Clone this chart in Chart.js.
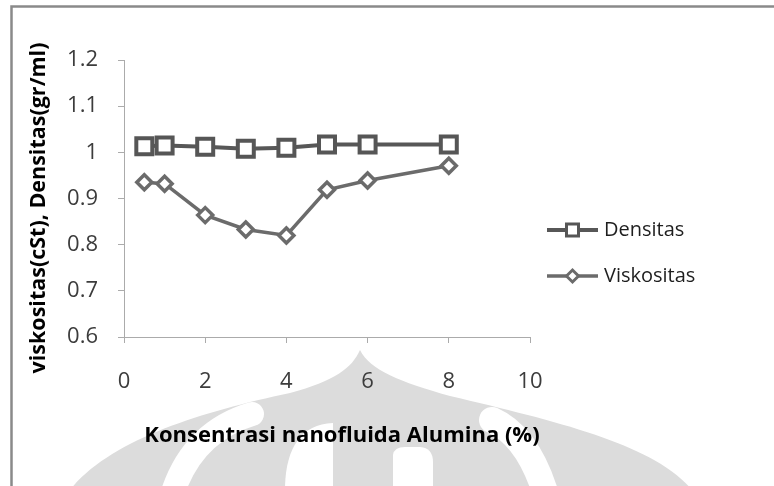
<!DOCTYPE html>
<html>
<head>
<meta charset="utf-8">
<script src="https://cdn.jsdelivr.net/npm/chart.js@4.4.0/dist/chart.umd.min.js"></script>
<style>
  html, body { margin: 0; padding: 0; background: #fff; }
  canvas { display: block; }
</style>
</head>
<body>
<canvas id="chart" width="774" height="486"></canvas>
<script>
// Alumina nanofluid concentration (%) and measured properties
const concentrations = [0.5, 1, 2, 3, 4, 5, 6, 8];
const densitas = [1.013, 1.015, 1.012, 1.008, 1.010, 1.017, 1.017, 1.017];
const viskositas = [0.935, 0.932, 0.864, 0.833, 0.820, 0.919, 0.939, 0.971];
const seriesNames = ['Densitas', 'Viskositas'];
const xTickLabels = ['0', '2', '4', '6', '8', '10'];
const yTickLabels = ['0.6', '0.7', '0.8', '0.9', '1', '1.1', '1.2'];
const xTitle = 'Konsentrasi nanofluida Alumina (%)';
const yTitle = 'viskositas(cSt), Densitas(gr/ml)';

const TICK_FONT = { family: "'Open Sans', sans-serif", size: 22 };
const AXIS_COLOR = '#ababab';

// Page frame and the faint dome emblem behind the plot
const backdrop = {
  id: 'backdrop',
  beforeDraw(chart) {
    const ctx = chart.ctx;
    ctx.save();
    ctx.fillStyle = '#fff';
    ctx.fillRect(0, 0, chart.width, chart.height);

    ctx.fillStyle = '#dcdcdc';
    ctx.beginPath();
    ctx.moveTo(70, 490);
    ctx.bezierCurveTo(110, 440, 200, 412, 290, 393);
    ctx.bezierCurveTo(335, 381, 352, 368, 360, 350);
    ctx.bezierCurveTo(370, 370, 400, 382, 450, 396);
    ctx.bezierCurveTo(560, 422, 655, 445, 692, 490);
    ctx.closePath();
    ctx.fill();

    ctx.strokeStyle = '#fff';
    ctx.lineCap = 'round';
    ctx.lineWidth = 24;
    ctx.beginPath();
    ctx.moveTo(172, 495);
    ctx.quadraticCurveTo(192, 432, 252, 414);
    ctx.stroke();
    ctx.lineWidth = 26;
    ctx.beginPath();
    ctx.moveTo(546, 495);
    ctx.quadraticCurveTo(528, 436, 492, 420);
    ctx.stroke();

    ctx.fillStyle = '#fff';
    ctx.beginPath();
    ctx.moveTo(285, 490);
    ctx.bezierCurveTo(285, 450, 300, 424, 333, 423);
    ctx.lineTo(333, 490);
    ctx.closePath();
    ctx.fill();
    ctx.beginPath();
    ctx.moveTo(393, 490);
    ctx.lineTo(393, 455);
    ctx.quadraticCurveTo(394, 447, 405, 447);
    ctx.lineTo(420, 447);
    ctx.quadraticCurveTo(433, 448, 433, 462);
    ctx.lineTo(433, 490);
    ctx.closePath();
    ctx.fill();

    ctx.strokeStyle = '#8a8a8a';
    ctx.lineWidth = 2.5;
    ctx.lineCap = 'butt';
    ctx.beginPath();
    ctx.moveTo(11.5, 490);
    ctx.lineTo(11.5, 6.5);
    ctx.lineTo(780, 6.5);
    ctx.stroke();
    ctx.restore();
  }
};

function drawMarker(ctx, ds, x, y, radius, borderWidth) {
  ctx.save();
  ctx.fillStyle = ds.pointBackgroundColor;
  ctx.strokeStyle = ds.pointBorderColor;
  ctx.lineWidth = borderWidth;
  ctx.beginPath();
  if (ds.pointStyle === 'rect') {
    const h = radius * Math.SQRT1_2;
    ctx.rect(x - h, y - h, 2 * h, 2 * h);
  } else {
    ctx.moveTo(x - radius, y);
    ctx.lineTo(x, y - radius);
    ctx.lineTo(x + radius, y);
    ctx.lineTo(x, y + radius);
    ctx.closePath();
  }
  ctx.fill();
  ctx.stroke();
  ctx.restore();
}

// Axis titles and the line-and-marker legend
const annotations = {
  id: 'annotations',
  afterDraw(chart) {
    const ctx = chart.ctx;
    ctx.save();
    ctx.fillStyle = '#000';
    ctx.font = "bold 22px 'Open Sans', sans-serif";
    ctx.textAlign = 'center';
    ctx.textBaseline = 'middle';
    ctx.fillText(xTitle, 342, 436);

    ctx.save();
    ctx.translate(39, 208);
    ctx.rotate(-Math.PI / 2);
    ctx.font = "bold 21.5px 'Open Sans', sans-serif";
    ctx.fillText(yTitle, 0, 0);
    ctx.restore();

    const legend = [
      { y: 230, radius: 8.5, border: 3, lineWidth: 4 },
      { y: 276, radius: 6, border: 3, lineWidth: 3.5 }
    ];
    chart.data.datasets.forEach((ds, i) => {
      const row = legend[i];
      ctx.strokeStyle = ds.borderColor;
      ctx.lineWidth = row.lineWidth;
      ctx.beginPath();
      ctx.moveTo(547, row.y);
      ctx.lineTo(598, row.y);
      ctx.stroke();
      drawMarker(ctx, ds, 572.5, row.y, row.radius, row.border);
      ctx.fillStyle = '#1e1e1e';
      ctx.font = "20px 'Open Sans', sans-serif";
      ctx.textAlign = 'left';
      ctx.fillText(ds.label, 604, row.y);
    });
    ctx.restore();
  }
};

new Chart(document.getElementById('chart'), {
  type: 'line',
  data: {
    datasets: [
      {
        label: seriesNames[0],
        data: concentrations.map((c, i) => ({ x: c, y: densitas[i] })),
        borderColor: '#575757',
        borderWidth: 4,
        pointStyle: 'rect',
        pointRadius: 11.3,
        pointBorderWidth: 4,
        pointBorderColor: '#565656',
        pointBackgroundColor: '#ffffff',
        tension: 0
      },
      {
        label: seriesNames[1],
        data: concentrations.map((c, i) => ({ x: c, y: viskositas[i] })),
        borderColor: '#6b6b6b',
        borderWidth: 3.5,
        pointStyle: 'rectRot',
        pointRadius: 7.5,
        pointBorderWidth: 3.5,
        pointBorderColor: '#6b6b6b',
        pointBackgroundColor: '#ffffff',
        tension: 0
      }
    ]
  },
  options: {
    responsive: false,
    animation: false,
    devicePixelRatio: 1,
    layout: { padding: { left: 0, top: 60, right: 244, bottom: 0 } },
    plugins: { legend: { display: false }, tooltip: { enabled: false } },
    scales: {
      x: {
        type: 'linear',
        min: 0,
        max: 10,
        afterFit(scale) { scale.height = 149; },
        ticks: {
          stepSize: 2,
          padding: 26,
          color: '#3c3c3c',
          font: TICK_FONT,
          maxRotation: 0,
          callback: (v, i) => xTickLabels[i]
        },
        grid: { drawOnChartArea: false, drawTicks: true, tickLength: 6, color: AXIS_COLOR },
        border: { color: AXIS_COLOR, width: 1 }
      },
      y: {
        type: 'linear',
        min: 0.6,
        max: 1.2,
        afterFit(scale) { scale.width = 124; },
        ticks: {
          stepSize: 0.1,
          padding: 20,
          color: '#3c3c3c',
          font: TICK_FONT,
          callback: (v, i) => yTickLabels[i]
        },
        grid: { drawOnChartArea: false, drawTicks: true, tickLength: 6, color: AXIS_COLOR },
        border: { color: AXIS_COLOR, width: 1 }
      }
    }
  },
  plugins: [backdrop, annotations]
});
</script>
</body>
</html>
